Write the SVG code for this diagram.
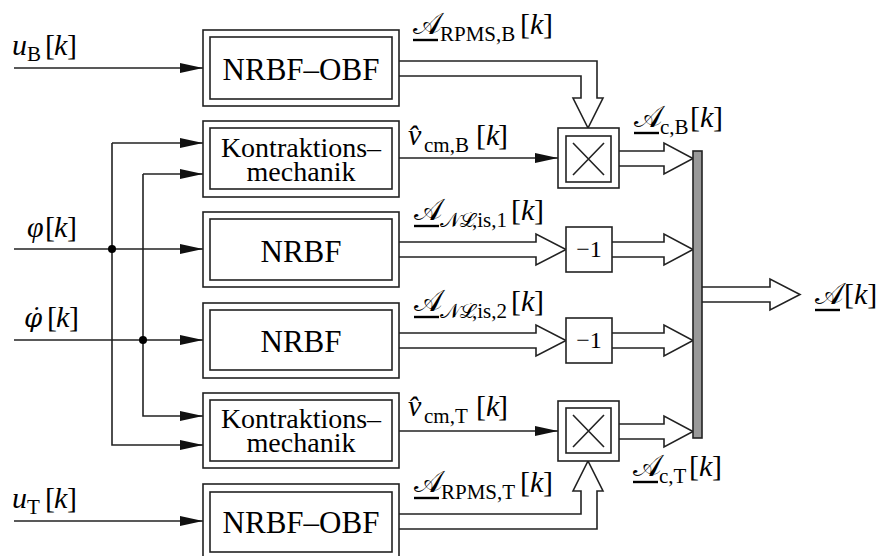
<svg xmlns="http://www.w3.org/2000/svg" width="879" height="556" viewBox="0 0 879 556">
<style>
.bx{fill:#fff;stroke:#222;stroke-width:1.6}
.ln{fill:none;stroke:#222;stroke-width:1.6}
.da{fill:#fff;stroke:#222;stroke-width:1.6;stroke-linejoin:miter}
text{font-family:'Liberation Serif','DejaVu Serif',serif;fill:#000}
.bt{font-size:31px;text-anchor:middle}
.kt{font-size:28px;text-anchor:middle}
.m{font-size:30px}
.i{font-style:italic}
.s{font-size:21px}
.cal{font-style:normal}
.ul{stroke:#000;stroke-width:2.4}
</style>
<defs>
<marker id="ah" markerUnits="userSpaceOnUse" markerWidth="24" markerHeight="12" refX="23" refY="6" orient="auto">
<path d="M0,1 L23,6 L0,11 z" fill="#111"/>
</marker>
</defs>
<rect width="879" height="556" fill="#fff"/>

<g id="connectors">
<path class="ln" d="M14,68 H203" marker-end="url(#ah)"/>
<path class="ln" d="M112,143 H203" marker-end="url(#ah)"/>
<path class="ln" d="M112,143 V445 H203" marker-end="url(#ah)"/>
<path class="ln" d="M143,174 H203" marker-end="url(#ah)"/>
<path class="ln" d="M143,174 V416 H203" marker-end="url(#ah)"/>
<path class="ln" d="M14,249 H203" marker-end="url(#ah)"/>
<path class="ln" d="M14,340 H203" marker-end="url(#ah)"/>
<path class="ln" d="M14,521 H203" marker-end="url(#ah)"/>
<circle cx="112" cy="249" r="4" fill="#000"/>
<circle cx="143" cy="340" r="4" fill="#000"/>
<path class="ln" d="M399,158 H558" marker-end="url(#ah)"/>
<path class="ln" d="M399,431 H558" marker-end="url(#ah)"/>
<path class="da" d="M399,61 H597 V98 H603 L588,128 L573,98 H581 V76 H399"/>
<path class="da" d="M399,529 H597 V491 H603 L588,461 L573,491 H581 V514 H399"/>
<path class="da" d="M399,242 H536 V234 L566,249.5 L536,265 V257 H399"/>
<path class="da" d="M399,333 H536 V325 L566,340.5 L536,356 V348 H399"/>
<path class="da" d="M619,151 H664 V143 L693,158.5 L664,174 V166 H619"/>
<path class="da" d="M612,242 H664 V234 L693,249.5 L664,265 V257 H612"/>
<path class="da" d="M612,333 H664 V325 L693,340.5 L664,356 V348 H612"/>
<path class="da" d="M619,424 H664 V416 L693,431.5 L664,447 V439 H619"/>
<path class="da" d="M702,287 H770 V279 L800,294.5 L770,310 V302 H702"/>

<text class="m" y="55"><tspan x="12" class="i">u</tspan><tspan x="27" y="61" class="s">B</tspan><tspan x="45" y="55">[</tspan><tspan x="54" class="i">k</tspan><tspan x="67">]</tspan></text>
<text class="m" y="237"><tspan x="27" class="i">φ</tspan><tspan x="45">[</tspan><tspan x="54" class="i">k</tspan><tspan x="67">]</tspan></text>
<text class="m" y="327"><tspan x="24" class="i" font-family="'DejaVu Serif', serif" font-size="26">φ̇</tspan><tspan x="47">[</tspan><tspan x="56" class="i">k</tspan><tspan x="69">]</tspan></text>
<text class="m" y="508"><tspan x="12" class="i">u</tspan><tspan x="27" y="514" class="s">T</tspan><tspan x="45" y="508">[</tspan><tspan x="54" class="i">k</tspan><tspan x="67">]</tspan></text>

<text class="m" y="34"><tspan x="413" class="cal">𝒜</tspan><tspan x="440" y="41" class="s">RPMS,B</tspan><tspan x="520" y="34">[</tspan><tspan x="530" class="i">k</tspan><tspan x="543">]</tspan></text>
<line class="ul" x1="413" y1="40" x2="438" y2="40"/>
<text class="m" y="145"><tspan x="408" class="i">v̂</tspan><tspan x="424" y="152" class="s">cm,B</tspan><tspan x="476" y="145">[</tspan><tspan x="486" class="i">k</tspan><tspan x="498">]</tspan></text>
<text class="m" y="127"><tspan x="634" class="cal">𝒜</tspan><tspan x="660" y="134" class="s">c,B</tspan><tspan x="690" y="127">[</tspan><tspan x="700" class="i">k</tspan><tspan x="713">]</tspan></text>
<line class="ul" x1="634" y1="133" x2="659" y2="133"/>
<text class="m" y="220"><tspan x="414" class="cal">𝒜</tspan><tspan x="440" y="227" class="s cal">𝒩ℒ</tspan><tspan x="472" class="s">,is,1</tspan><tspan x="511" y="220">[</tspan><tspan x="521" class="i">k</tspan><tspan x="534">]</tspan></text>
<line class="ul" x1="414" y1="226" x2="439" y2="226"/>
<text class="m" y="311"><tspan x="414" class="cal">𝒜</tspan><tspan x="440" y="318" class="s cal">𝒩ℒ</tspan><tspan x="472" class="s">,is,2</tspan><tspan x="511" y="311">[</tspan><tspan x="521" class="i">k</tspan><tspan x="534">]</tspan></text>
<line class="ul" x1="414" y1="317" x2="439" y2="317"/>
<text class="m" y="304"><tspan x="815" class="cal">𝒜</tspan><tspan dx="1">[</tspan><tspan class="i">k</tspan><tspan>]</tspan></text>
<line class="ul" x1="815" y1="310" x2="840" y2="310"/>
<text class="m" y="416"><tspan x="408" class="i">v̂</tspan><tspan x="424" y="423" class="s">cm,T</tspan><tspan x="476" y="416">[</tspan><tspan x="486" class="i">k</tspan><tspan x="498">]</tspan></text>
<text class="m" y="476"><tspan x="633" class="cal">𝒜</tspan><tspan x="659" y="483" class="s">c,T</tspan><tspan x="689" y="476">[</tspan><tspan x="699" class="i">k</tspan><tspan x="712">]</tspan></text>
<line class="ul" x1="633" y1="482" x2="658" y2="482"/>
<text class="m" y="492"><tspan x="414" class="cal">𝒜</tspan><tspan x="441" y="499" class="s">RPMS,T</tspan><tspan x="520" y="492">[</tspan><tspan x="530" class="i">k</tspan><tspan x="543">]</tspan></text>
<line class="ul" x1="414" y1="498" x2="439" y2="498"/>
</g>

<g id="nrbf_obf_B">
<rect class="bx" x="203" y="30" width="196" height="76"/>
<rect class="bx" x="210" y="37" width="182" height="62"/>
<text class="bt" x="301" y="80">NRBF–OBF</text>
</g>
<g id="kontraktion_B">
<rect class="bx" x="203" y="121" width="196" height="76"/>
<rect class="bx" x="210" y="128" width="182" height="61"/>
<text class="kt"><tspan x="301" y="157">Kontraktions–</tspan><tspan x="301" y="181">mechanik</tspan></text>
</g>
<g id="nrbf_1">
<rect class="bx" x="203" y="212" width="196" height="75"/>
<rect class="bx" x="210" y="219" width="182" height="61"/>
<text class="bt" x="301" y="262">NRBF</text>
</g>
<g id="nrbf_2">
<rect class="bx" x="203" y="303" width="196" height="75"/>
<rect class="bx" x="210" y="310" width="182" height="60"/>
<text class="bt" x="301" y="352">NRBF</text>
</g>
<g id="kontraktion_T">
<rect class="bx" x="203" y="393" width="196" height="75"/>
<rect class="bx" x="210" y="400" width="182" height="61"/>
<text class="kt"><tspan x="301" y="428">Kontraktions–</tspan><tspan x="301" y="452">mechanik</tspan></text>
</g>
<g id="nrbf_obf_T">
<rect class="bx" x="203" y="484" width="196" height="76"/>
<rect class="bx" x="210" y="492" width="182" height="60"/>
<text class="bt" x="301" y="533">NRBF–OBF</text>
</g>
<g id="mult_B">
<rect class="bx" x="558" y="128" width="61" height="60"/>
<rect class="bx" x="566" y="136" width="45" height="46"/>
<path class="ln" d="M573,143 L604,175 M604,143 L573,175"/>
</g>
<g id="mult_T">
<rect class="bx" x="558" y="401" width="61" height="60"/>
<rect class="bx" x="566" y="408" width="45" height="45"/>
<path class="ln" d="M573,415 L604,447 M604,415 L573,447"/>
</g>
<g id="neg_1">
<rect class="bx" x="566" y="227" width="46" height="45"/>
<text x="589" y="257" font-size="24" text-anchor="middle">−1</text>
</g>
<g id="neg_2">
<rect class="bx" x="566" y="318" width="46" height="45"/>
<text x="589" y="348" font-size="24" text-anchor="middle">−1</text>
</g>
<g id="bus">
<rect x="693" y="151" width="9" height="287" fill="#999" stroke="#222" stroke-width="1.6"/>
</g>
</svg>
